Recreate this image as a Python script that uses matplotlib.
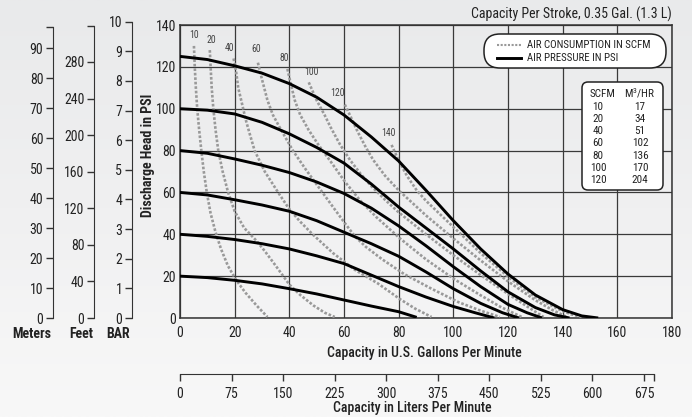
import numpy as np
import matplotlib
matplotlib.use('Agg')
import matplotlib.pyplot as plt
from matplotlib.patches import FancyBboxPatch
from matplotlib.lines import Line2D
from matplotlib.transforms import IdentityTransform
from matplotlib.colors import LinearSegmentedColormap
from matplotlib import font_manager

W, H = 692, 417
names = {f.name for f in font_manager.fontManager.ttflist}
pref = ['Liberation Sans Narrow', 'Roboto Condensed', 'Open Sans Condensed', 'Arial Narrow', 'Roboto']
FONT = next((p for p in pref if p in names), 'DejaVu Sans')
plt.rcParams['font.family'] = [FONT, 'DejaVu Sans']
plt.rcParams['mathtext.fontset'] = 'custom'
plt.rcParams['mathtext.rm'] = FONT
plt.rcParams['mathtext.it'] = FONT
plt.rcParams['mathtext.bf'] = FONT
NARROW = FONT in ('Liberation Sans Narrow', 'Roboto Condensed', 'Open Sans Condensed', 'Arial Narrow')
S = 1.0 if NARROW else 0.9

# ---------------- data ----------------
gpm_ticks = list(range(0, 181, 20))
psi_ticks = list(range(0, 141, 20))
lpm_ticks = list(range(0, 676, 75))
meter_ticks = list(range(0, 91, 10))
feet_ticks = list(range(0, 281, 40))
bar_ticks = list(range(0, 11))

# air pressure curves (solid): gpm, psi
p125_gpm = [0, 10, 20, 30, 40, 50, 60, 70, 80, 90, 100, 110, 120, 130, 140, 147, 153]
p125_psi = [125, 123.5, 120.5, 117, 112, 105.5, 97, 86.5, 75, 61, 46.5, 33, 21, 11, 4, 1, 0]
p100_gpm = [0, 10, 20, 30, 40, 50, 60, 70, 80, 90, 100, 110, 120, 130, 137, 142.5]
p100_psi = [100, 99.3, 97.5, 93.5, 88, 81.5, 74, 64, 53, 43, 33, 22.5, 12.5, 5, 1.5, 0]
p80_gpm = [0, 10, 20, 30, 40, 50, 60, 70, 80, 90, 100, 110, 120, 127, 132.5]
p80_psi = [80, 78.7, 76, 73, 69.5, 65, 59.5, 52.5, 44, 34.5, 24.5, 15, 6.5, 2.5, 0]
p60_gpm = [0, 10, 20, 30, 40, 50, 60, 70, 80, 90, 100, 110, 118, 124]
p60_psi = [60, 58.8, 56.5, 54, 51, 46.5, 41, 35.5, 29.5, 22, 14, 7, 2.5, 0]
p40_gpm = [0, 10, 20, 30, 40, 50, 60, 70, 80, 90, 100, 108, 115]
p40_psi = [40, 39, 37.5, 35.5, 33, 29.7, 26, 20.5, 15, 10, 5.5, 2.5, 0]
p20_gpm = [0, 10, 20, 30, 40, 50, 60, 70, 80, 86.6]
p20_psi = [20, 19.3, 18, 16.3, 14, 11.5, 8.6, 5.7, 3, 0.3]

# air consumption curves (dotted): gpm, psi
a10_gpm = [5.1, 5.4, 5.8, 6.3, 7, 7.8, 8.7, 9.8, 11.2, 13, 15, 17.5, 20.6, 24, 28, 32]
a10_psi = [130, 120, 110, 100, 90, 80, 70, 60, 50, 41, 33, 25, 18, 12, 6, 0.5]
a20_gpm = [10.9, 11.2, 11.6, 12.2, 13, 14, 15.6, 17.6, 20, 23.5, 27.9, 31, 35, 40, 44, 48.8, 53, 56.6]
a20_psi = [128, 120, 110, 100, 90, 80, 70, 60, 51, 43, 37, 32, 25, 16, 11, 6, 2.5, 0.5]
a40_gpm = [19.6, 20.5, 21.3, 22.4, 24, 25.5, 27.3, 31, 35.9, 40, 44, 48.5, 56, 64, 72.4, 80.5, 86, 92]
a40_psi = [124, 118, 110, 104, 95, 88, 80, 70, 60, 52, 46, 40, 31, 23, 16.5, 9, 4.5, 0.5]
a60_gpm = [28.5, 30, 32, 34, 36.5, 41.3, 46, 51, 56, 60.5, 64, 68, 74, 82, 92, 102, 110, 117]
a60_psi = [122, 114, 104, 97, 91, 80, 71, 62, 53, 45, 39, 34, 28, 21, 14, 7.5, 3.5, 0.5]
a80_gpm = [39.3, 40.5, 42, 44, 47, 50.5, 55, 60.4, 66, 72, 80.5, 90, 100.4, 109.8, 117, 121, 125]
a80_psi = [119, 112, 104, 97, 90, 83, 75, 65, 56, 48, 38, 28, 18.5, 11, 5.5, 3, 0.5]
a100_gpm = [47.1, 50, 52.9, 55, 58.5, 62.2, 66, 70, 75, 80, 90, 100, 110, 120, 127, 133]
a100_psi = [112.6, 104, 97, 91.4, 83, 75.5, 69, 63, 56.5, 50.5, 40, 30, 20.5, 11.5, 5.5, 0.5]
a120_gpm = [60.3, 62.5, 65, 68, 70.7, 75, 80, 90, 100, 110, 120, 130, 136, 141.5]
a120_psi = [102, 96, 89, 81.5, 75.5, 68, 61, 49, 38, 27.5, 17.5, 8.5, 4, 0.5]
a140_gpm = [77.4, 79.9, 83, 86.6, 90, 100, 110, 120.7, 130, 138, 143, 147]
a140_psi = [82.7, 75.5, 68, 61, 56, 43.5, 31, 19, 10, 4.5, 1.8, 0.5]

pressure_curves = [(p125_gpm, p125_psi), (p100_gpm, p100_psi), (p80_gpm, p80_psi),
                   (p60_gpm, p60_psi), (p40_gpm, p40_psi), (p20_gpm, p20_psi)]
air_labels = ['10', '20', '40', '60', '80', '100', '120', '140']
air_curves = [(a10_gpm, a10_psi), (a20_gpm, a20_psi), (a40_gpm, a40_psi), (a60_gpm, a60_psi),
              (a80_gpm, a80_psi), (a100_gpm, a100_psi), (a120_gpm, a120_psi), (a140_gpm, a140_psi)]
air_label_off = [(0, 4), (1, 4), (-3, 4), (-1, 6), (-2, 4), (2, 4), (-5, 5), (-2, 5)]

table_scfm = ['10', '20', '40', '60', '80', '100', '120']
table_m3hr = ['17', '34', '51', '102', '136', '170', '204']

TXT = '#222222'
GRID = '#3a3a3a'
DOT = '#999999'

# ---------------- figure ----------------
fig = plt.figure(figsize=(W / 100, H / 100), dpi=100)

def fx(px):
    return px / W

def fy(py):
    return 1 - py / H

bg = fig.add_axes([0, 0, 1, 1], zorder=-5)
grad = np.linspace(0, 1, 256).reshape(-1, 1)
cm = LinearSegmentedColormap.from_list('bg', ['#e9eaeb', '#f0f0f1', '#f8f8f8'])
bg.imshow(grad, aspect='auto', cmap=cm, extent=[0, 1, 0, 1])
bg.axis('off')

L, R, T, B = 180, 672, 25, 318
ax = fig.add_axes([fx(L), fy(B), (R - L) / W, (B - T) / H])
ax.set_facecolor('none')
ax.set_xlim(0, 180)
ax.set_ylim(0, 140)
ax.set_xticks(gpm_ticks)
ax.set_yticks(psi_ticks)
ax.grid(True, color=GRID, lw=0.9)
ax.tick_params(length=0, labelsize=10 * S, colors=TXT, pad=3)
ax.tick_params(axis='x', pad=6)
for s in ax.spines.values():
    s.set_color('#333333')
    s.set_linewidth(1.1)

for g, p in air_curves:
    ax.plot(g, p, color=DOT, lw=1.9, ls=(0, (1.0, 0.7)), zorder=3)
for (g, p), lab, off in zip(air_curves, air_labels, air_label_off):
    ax.annotate(lab, xy=(g[0], p[0]), xytext=off, textcoords='offset points',
                ha='center', va='bottom', fontsize=7 * S, color='#444444', zorder=5)
for g, p in pressure_curves:
    ax.plot(g, p, color='black', lw=2.1, zorder=4, solid_capstyle='butt')

# liters axis
lax = fig.add_axes([fx(180), fy(374), 474 / W, 0.0001])
lax.set_facecolor('none')
lax.set_xlim(0, 474 * 675 / 464)
lax.set_yticks([])
lax.set_xticks(lpm_ticks)
lax.set_xticks([474 * 675 / 464], minor=True)
for k in ['top', 'left', 'right']:
    lax.spines[k].set_visible(False)
lax.spines['bottom'].set_color('#333333')
lax.tick_params(axis='x', which='both', direction='out', length=5, width=1,
                colors='#333333', labelsize=10 * S, labelcolor=TXT, pad=4)

def left_scale(xpx, top_px, ymax, ticks, spine_top, end_tick=None):
    a = fig.add_axes([fx(xpx), fy(B), 0.0001, (B - top_px) / H])
    a.set_facecolor('none')
    a.set_ylim(0, ymax)
    a.set_xticks([])
    a.set_yticks(ticks)
    if end_tick is not None:
        a.set_yticks([end_tick], minor=True)
    for k in ['top', 'bottom', 'right']:
        a.spines[k].set_visible(False)
    a.spines['left'].set_bounds(0, spine_top)
    a.spines['left'].set_color('#333333')
    a.tick_params(axis='y', which='both', direction='out', length=5, width=1,
                  colors='#333333', labelsize=10 * S, labelcolor=TXT, pad=2)
    return a

left_scale(53, T, (B - T) / 3.0, meter_ticks, 97, 97)
left_scale(94, T, (B - T) / 0.9144, feet_ticks, 319, 319)
left_scale(132, 21.7, 10, bar_ticks, 10)

TW = 'medium'
fig.text(fx(32), fy(334), 'Meters', ha='center', va='center', fontsize=10 * S, color=TXT, weight='bold')
fig.text(fx(81), fy(334), 'Feet', ha='center', va='center', fontsize=10 * S, color=TXT, weight='bold')
fig.text(fx(118), fy(334), 'BAR', ha='center', va='center', fontsize=10 * S, color=TXT, weight='bold')
fig.text(fx(148), fy(155), 'Discharge Head in PSI', rotation=90, ha='center', va='center',
         fontsize=10 * S, color=TXT, weight='bold')
fig.text(fx(424), fy(353), 'Capacity in U.S. Gallons Per Minute', ha='center', va='center',
         fontsize=10 * S, color=TXT, weight=TW)
fig.text(fx(412), fy(408), 'Capacity in Liters Per Minute', ha='center', va='center',
         fontsize=10 * S, color=TXT, weight=TW)
fig.text(fx(672), fy(14), 'Capacity Per Stroke, 0.35 Gal. (1.3 L)', ha='right', va='center',
         fontsize=10 * S, color=TXT)

pill = FancyBboxPatch((484, H - 68), 182, 34, boxstyle='round,pad=0,rounding_size=16',
                      transform=IdentityTransform(), facecolor='white', edgecolor='#222222',
                      lw=1.1, zorder=10)
fig.add_artist(pill)
fig.add_artist(Line2D([fx(497), fx(521)], [fy(45), fy(45)], transform=fig.transFigure,
                      color=DOT, lw=1.5, ls=(0, (1.0, 0.75)), zorder=11))
fig.add_artist(Line2D([fx(497), fx(521)], [fy(57.5), fy(57.5)], transform=fig.transFigure,
                      color='black', lw=2.1, zorder=11))
LS = 7.8 if NARROW else 6.7
fig.text(fx(527), fy(45), 'AIR CONSUMPTION IN SCFM', ha='left', va='center', fontsize=LS,
         color=TXT, zorder=12)
fig.text(fx(527), fy(58), 'AIR PRESSURE IN PSI', ha='left', va='center', fontsize=LS,
         color=TXT, zorder=12)

tbl = FancyBboxPatch((582, H - 190), 81, 108, boxstyle='round,pad=0,rounding_size=6',
                     transform=IdentityTransform(), facecolor='white', edgecolor='#222222',
                     lw=1.1, zorder=10)
fig.add_artist(tbl)
TS = 8 if NARROW else 7.5
fig.text(fx(602), fy(94), 'SCFM', ha='center', va='center', fontsize=TS, color=TXT, zorder=12)
fig.text(fx(640), fy(93), r'M$\mathregular{^3}$/HR', ha='center', va='center', fontsize=TS,
         color=TXT, zorder=12)
for i, (s, m) in enumerate(zip(table_scfm, table_m3hr)):
    yy = 106.5 + i * 12.3
    fig.text(fx(598), fy(yy), s, ha='center', va='center', fontsize=TS, color=TXT, zorder=12)
    fig.text(fx(640), fy(yy), m, ha='center', va='center', fontsize=TS, color=TXT, zorder=12)

fig.savefig('out.png', dpi=100)
